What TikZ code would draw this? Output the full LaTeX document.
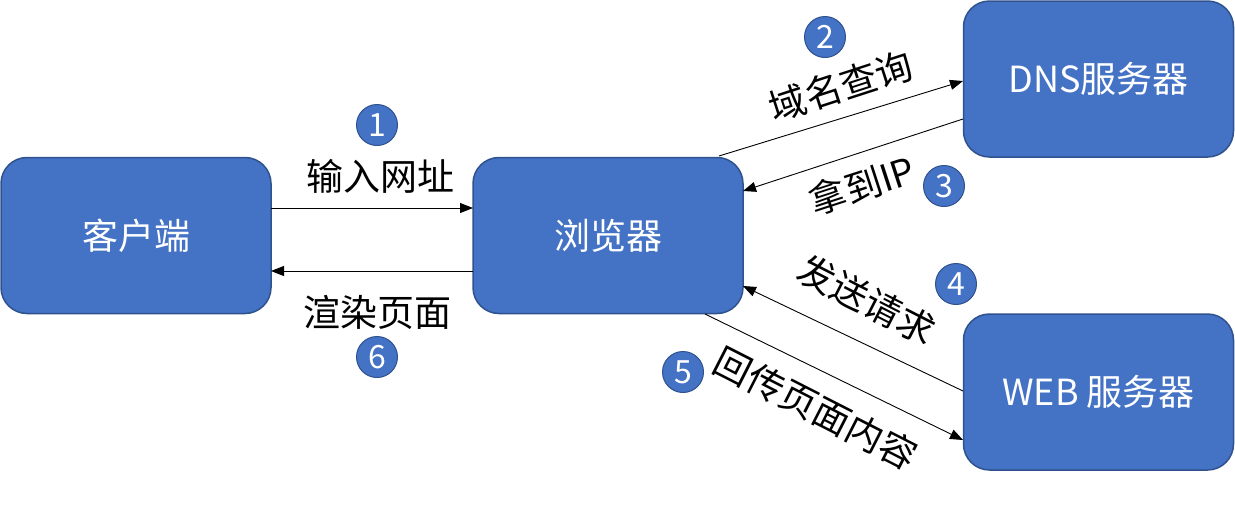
\documentclass[tikz,border=0pt]{standalone}
\usepackage{fontspec}
\setmainfont{Noto Sans CJK SC}
\usetikzlibrary{arrows.meta}
\definecolor{boxblue}{HTML}{4472C4}
\definecolor{boxedge}{HTML}{2F528F}
\tikzset{
  box/.style={draw=boxedge, line width=1.5pt, fill=boxblue, rounded corners=26pt,
    minimum width=270pt, minimum height=156pt, text=white, font=\fontsize{36}{40}\selectfont, inner sep=0pt},
  num/.style={circle, draw=boxedge, line width=1pt, fill=boxblue, minimum size=41pt, inner sep=0pt,
    text=white, font=\fontsize{32}{34}\selectfont},
  lbl/.style={font=\fontsize{37}{40}\selectfont, inner sep=0pt},
  conn/.style={line width=0.9pt, -{Triangle[length=13pt,width=10pt]}}
}
\begin{document}
\begin{tikzpicture}[x=1pt,y=-1pt]
\useasboundingbox (0,0) rectangle (1235,507);
\node[box] (client) at (136,235.5) {客户端};
\node[box] (browser) at (608,235.5) {浏览器};
\node[box] (dns) at (1098.5,79) {DNS服务器};
\node[box] (web) at (1098.5,392) {WEB 服务器};

\coordinate (c1) at (271,208);
\coordinate (b1) at (473,208);
\coordinate (b2) at (473,271);
\coordinate (c2) at (271,271);
\draw[conn] (c1) -- (b1);
\draw[conn] (b2) -- (c2);

\coordinate (bq) at (719,156);
\coordinate (dq) at (963,81);
\coordinate (dr) at (963,119);
\coordinate (br) at (743,191);
\draw[conn] (bq) -- (dq);
\draw[conn] (dr) -- (br);

\coordinate (ws) at (963,391);
\coordinate (bs) at (743,286);
\coordinate (bp) at (705,314);
\coordinate (wp) at (963,440);
\draw[conn] (ws) -- (bs);
\draw[conn] (bp) -- (wp);

\node[lbl] (l1) at (380,176) {输入网址};
\node[lbl] (l6) at (377,312) {渲染页面};
\node[lbl, rotate=18] (l2) at (841,86) {域名查询};
\node[lbl, rotate=18] (l3) at (862,185) {拿到IP};
\node[lbl, rotate=-27] (l4) at (867,300) {发送请求};
\node[lbl, rotate=-27] (l5) at (816,408) {回传页面内容};

\node[num] (n1) at (377,125) {1};
\node[num] (n2) at (825,37) {2};
\node[num] (n3) at (944,186) {3};
\node[num] (n4) at (956,284) {4};
\node[num] (n5) at (683,372) {5};
\node[num] (n6) at (377,357) {6};
\end{tikzpicture}
\end{document}
